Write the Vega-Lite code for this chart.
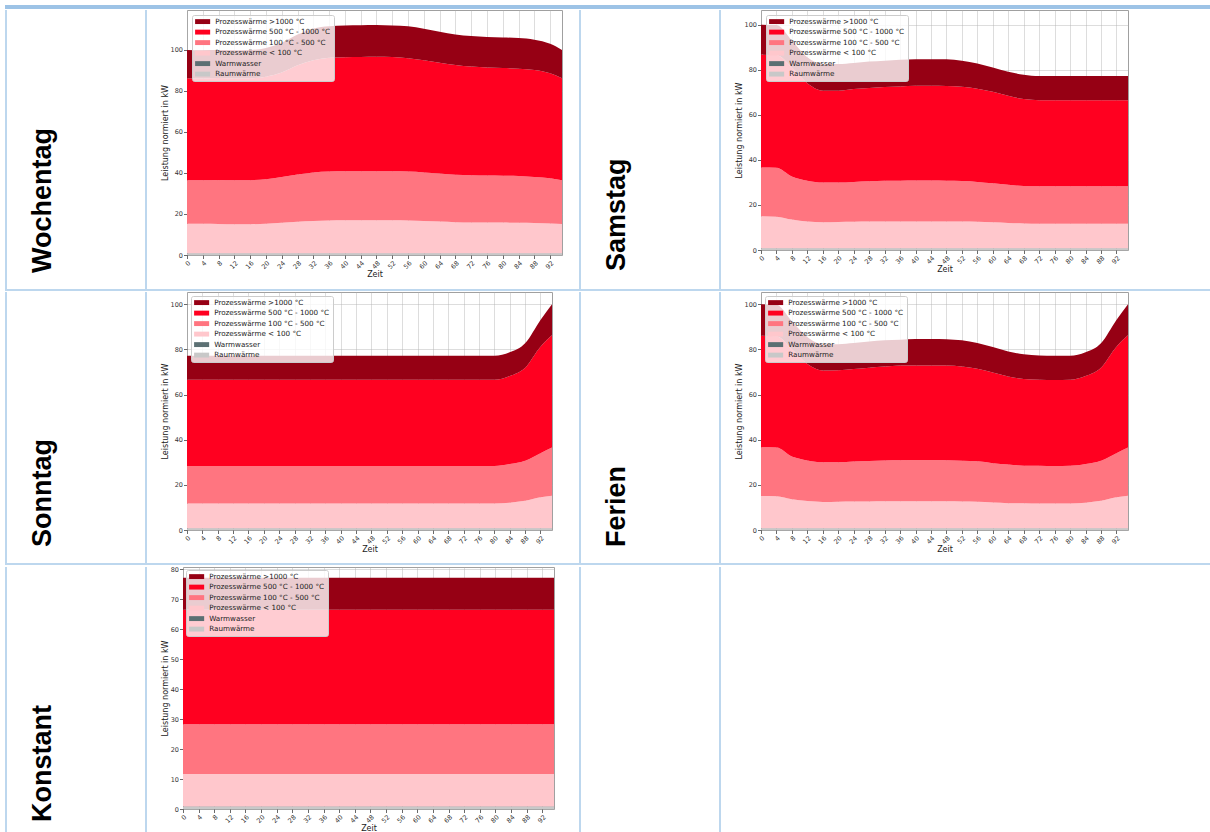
{
"$schema": "https://vega.github.io/schema/vega-lite/v6.json",
"background": "white",
"padding": {"left": 5, "top": 5, "right": 0, "bottom": 0},
"config": {
  "view": {"stroke": null},
  "font": "DejaVu Sans",
  "axis": {"labelFont": "DejaVu Sans", "titleFont": "DejaVu Sans", "labelFontSize": 6.5, "titleFontSize": 8, "titleFontWeight": "normal", "labelColor": "#333", "titleColor": "#222", "tickColor": "#444", "tickSize": 3.5, "tickWidth": 0.8, "domain": false, "gridColor": "#b0b0b0", "gridOpacity": 0.55, "gridWidth": 0.8, "zindex": 1, "labelPadding": 1, "titlePadding": 1, "labelOverlap": false, "labelFlush": false},
  "legend": {"labelFont": "DejaVu Sans", "labelFontSize": 7.2, "labelColor": "#222", "fillColor": "rgba(255,255,255,0.8)", "strokeColor": "#cccccc", "cornerRadius": 2, "padding": 3, "rowPadding": 2.5, "symbolStrokeWidth": 0, "labelOffset": 13, "zindex": 2}
},
"datasets": {
  "none": [],
  "names": [
    {"key": "r", "name": "Raumwärme", "rank": 1},
    {"key": "w", "name": "Warmwasser", "rank": 2},
    {"key": "a", "name": "Prozesswärme < 100 °C", "rank": 3},
    {"key": "b", "name": "Prozesswärme 100 °C - 500 °C", "rank": 4},
    {"key": "d", "name": "Prozesswärme 500 °C - 1000 °C", "rank": 5},
    {"key": "e", "name": "Prozesswärme >1000 °C", "rank": 6}
  ],
  "p": [
    {"c":"W","t":0,"r":0.7,"w":0.1,"a":14.4,"b":21.3,"d":49.7,"e":13.8},
    {"c":"W","t":4,"r":0.7,"w":0.1,"a":14.4,"b":21.2,"d":49.7,"e":13.8},
    {"c":"W","t":8,"r":0.7,"w":0.1,"a":14.3,"b":21.5,"d":49.7,"e":13.7},
    {"c":"W","t":12,"r":0.7,"w":0.1,"a":14.2,"b":21.4,"d":49.7,"e":13.8},
    {"c":"W","t":16,"r":0.7,"w":0.1,"a":14.2,"b":21.5,"d":49.7,"e":13.8},
    {"c":"W","t":20,"r":0.7,"w":0.1,"a":14.5,"b":21.7,"d":50.0,"e":14.0},
    {"c":"W","t":24,"r":0.7,"w":0.1,"a":14.9,"b":22.3,"d":51.0,"e":14.5},
    {"c":"W","t":28,"r":0.7,"w":0.1,"a":15.4,"b":23.1,"d":53.2,"e":15.0},
    {"c":"W","t":32,"r":0.7,"w":0.1,"a":15.8,"b":23.7,"d":54.7,"e":15.5},
    {"c":"W","t":36,"r":0.7,"w":0.1,"a":16.0,"b":23.9,"d":55.5,"e":15.4},
    {"c":"W","t":40,"r":0.7,"w":0.1,"a":16.1,"b":23.9,"d":55.7,"e":15.5},
    {"c":"W","t":44,"r":0.7,"w":0.1,"a":16.1,"b":23.9,"d":55.8,"e":15.5},
    {"c":"W","t":48,"r":0.7,"w":0.1,"a":16.1,"b":23.9,"d":55.9,"e":15.5},
    {"c":"W","t":52,"r":0.7,"w":0.1,"a":16.1,"b":23.9,"d":55.8,"e":15.4},
    {"c":"W","t":56,"r":0.7,"w":0.1,"a":16.0,"b":23.9,"d":55.3,"e":15.6},
    {"c":"W","t":60,"r":0.7,"w":0.1,"a":15.8,"b":23.7,"d":54.7,"e":15.4},
    {"c":"W","t":64,"r":0.7,"w":0.1,"a":15.5,"b":23.5,"d":54.0,"e":15.1},
    {"c":"W","t":68,"r":0.7,"w":0.1,"a":15.2,"b":23.2,"d":53.5,"e":14.9},
    {"c":"W","t":72,"r":0.7,"w":0.1,"a":15.1,"b":23.0,"d":53.0,"e":14.9},
    {"c":"W","t":76,"r":0.7,"w":0.1,"a":15.0,"b":23.0,"d":52.6,"e":14.9},
    {"c":"W","t":80,"r":0.7,"w":0.1,"a":15.0,"b":22.9,"d":52.5,"e":14.9},
    {"c":"W","t":84,"r":0.7,"w":0.1,"a":14.9,"b":22.8,"d":52.4,"e":14.9},
    {"c":"W","t":88,"r":0.7,"w":0.1,"a":14.8,"b":22.4,"d":52.2,"e":14.8},
    {"c":"W","t":92,"r":0.7,"w":0.1,"a":14.6,"b":22.0,"d":51.2,"e":14.4},
    {"c":"W","t":95,"r":0.7,"w":0.1,"a":14.3,"b":21.3,"d":49.8,"e":13.8},

    {"c":"S","t":0,"r":0.7,"w":0.1,"a":14.2,"b":21.6,"d":50.1,"e":13.3},
    {"c":"S","t":4,"r":0.7,"w":0.1,"a":14.0,"b":21.7,"d":50.0,"e":13.3},
    {"c":"S","t":8,"r":0.7,"w":0.1,"a":12.7,"b":19.1,"d":48.4,"e":12.0},
    {"c":"S","t":12,"r":0.7,"w":0.1,"a":11.8,"b":18.1,"d":43.3,"e":11.5},
    {"c":"S","t":16,"r":0.7,"w":0.1,"a":11.5,"b":17.6,"d":40.8,"e":11.8},
    {"c":"S","t":20,"r":0.7,"w":0.1,"a":11.6,"b":17.5,"d":40.8,"e":11.8},
    {"c":"S","t":24,"r":0.7,"w":0.1,"a":11.7,"b":17.7,"d":41.2,"e":11.6},
    {"c":"S","t":28,"r":0.7,"w":0.1,"a":11.8,"b":17.9,"d":41.4,"e":11.7},
    {"c":"S","t":32,"r":0.7,"w":0.1,"a":11.9,"b":18.0,"d":41.6,"e":11.7},
    {"c":"S","t":36,"r":0.7,"w":0.1,"a":11.9,"b":18.0,"d":41.9,"e":11.8},
    {"c":"S","t":40,"r":0.7,"w":0.1,"a":11.9,"b":18.1,"d":42.1,"e":11.8},
    {"c":"S","t":44,"r":0.7,"w":0.1,"a":11.9,"b":18.1,"d":42.1,"e":11.8},
    {"c":"S","t":48,"r":0.7,"w":0.1,"a":11.9,"b":18.0,"d":42.1,"e":11.8},
    {"c":"S","t":52,"r":0.7,"w":0.1,"a":11.8,"b":18.0,"d":41.8,"e":11.6},
    {"c":"S","t":56,"r":0.7,"w":0.1,"a":11.7,"b":17.7,"d":41.4,"e":11.2},
    {"c":"S","t":60,"r":0.7,"w":0.1,"a":11.5,"b":17.3,"d":40.6,"e":10.8},
    {"c":"S","t":64,"r":0.7,"w":0.1,"a":11.2,"b":16.9,"d":39.5,"e":10.7},
    {"c":"S","t":68,"r":0.7,"w":0.1,"a":11.0,"b":16.6,"d":38.6,"e":10.8},
    {"c":"S","t":72,"r":0.7,"w":0.1,"a":10.9,"b":16.6,"d":38.2,"e":10.7},
    {"c":"S","t":76,"r":0.7,"w":0.1,"a":10.9,"b":16.6,"d":38.2,"e":10.7},
    {"c":"S","t":80,"r":0.7,"w":0.1,"a":10.9,"b":16.6,"d":38.2,"e":10.7},
    {"c":"S","t":84,"r":0.7,"w":0.1,"a":10.9,"b":16.6,"d":38.2,"e":10.7},
    {"c":"S","t":88,"r":0.7,"w":0.1,"a":10.9,"b":16.6,"d":38.2,"e":10.7},
    {"c":"S","t":92,"r":0.7,"w":0.1,"a":10.9,"b":16.6,"d":38.2,"e":10.7},
    {"c":"S","t":95,"r":0.7,"w":0.1,"a":10.9,"b":16.6,"d":38.2,"e":10.7},

    {"c":"So","t":0,"r":0.7,"w":0.1,"a":10.9,"b":16.6,"d":38.2,"e":10.7},
    {"c":"So","t":4,"r":0.7,"w":0.1,"a":10.9,"b":16.6,"d":38.2,"e":10.7},
    {"c":"So","t":8,"r":0.7,"w":0.1,"a":10.9,"b":16.6,"d":38.2,"e":10.7},
    {"c":"So","t":12,"r":0.7,"w":0.1,"a":10.9,"b":16.6,"d":38.2,"e":10.7},
    {"c":"So","t":16,"r":0.7,"w":0.1,"a":10.9,"b":16.6,"d":38.2,"e":10.7},
    {"c":"So","t":20,"r":0.7,"w":0.1,"a":10.9,"b":16.6,"d":38.2,"e":10.7},
    {"c":"So","t":24,"r":0.7,"w":0.1,"a":10.9,"b":16.6,"d":38.2,"e":10.7},
    {"c":"So","t":28,"r":0.7,"w":0.1,"a":10.9,"b":16.6,"d":38.2,"e":10.7},
    {"c":"So","t":32,"r":0.7,"w":0.1,"a":10.9,"b":16.6,"d":38.2,"e":10.7},
    {"c":"So","t":36,"r":0.7,"w":0.1,"a":10.9,"b":16.6,"d":38.2,"e":10.7},
    {"c":"So","t":40,"r":0.7,"w":0.1,"a":10.9,"b":16.6,"d":38.2,"e":10.7},
    {"c":"So","t":44,"r":0.7,"w":0.1,"a":10.9,"b":16.6,"d":38.2,"e":10.7},
    {"c":"So","t":48,"r":0.7,"w":0.1,"a":10.9,"b":16.6,"d":38.2,"e":10.7},
    {"c":"So","t":52,"r":0.7,"w":0.1,"a":10.9,"b":16.6,"d":38.2,"e":10.7},
    {"c":"So","t":56,"r":0.7,"w":0.1,"a":10.9,"b":16.6,"d":38.2,"e":10.7},
    {"c":"So","t":60,"r":0.7,"w":0.1,"a":10.9,"b":16.6,"d":38.2,"e":10.7},
    {"c":"So","t":64,"r":0.7,"w":0.1,"a":10.9,"b":16.6,"d":38.2,"e":10.7},
    {"c":"So","t":68,"r":0.7,"w":0.1,"a":10.9,"b":16.6,"d":38.2,"e":10.7},
    {"c":"So","t":72,"r":0.7,"w":0.1,"a":10.9,"b":16.6,"d":38.2,"e":10.7},
    {"c":"So","t":76,"r":0.7,"w":0.1,"a":10.9,"b":16.6,"d":38.2,"e":10.7},
    {"c":"So","t":80,"r":0.7,"w":0.1,"a":10.9,"b":16.6,"d":38.2,"e":10.7},
    {"c":"So","t":84,"r":0.7,"w":0.1,"a":11.3,"b":17.1,"d":39.0,"e":10.5},
    {"c":"So","t":88,"r":0.7,"w":0.1,"a":12.1,"b":17.8,"d":41.2,"e":10.8},
    {"c":"So","t":92,"r":0.7,"w":0.1,"a":13.7,"b":19.5,"d":47.2,"e":11.8},
    {"c":"So","t":95,"r":0.7,"w":0.1,"a":14.4,"b":21.3,"d":49.7,"e":13.8},

    {"c":"F","t":0,"r":0.7,"w":0.1,"a":14.3,"b":21.5,"d":49.4,"e":14.0},
    {"c":"F","t":4,"r":0.7,"w":0.1,"a":14.2,"b":21.5,"d":49.3,"e":14.0},
    {"c":"F","t":8,"r":0.7,"w":0.1,"a":12.8,"b":18.9,"d":47.5,"e":12.5},
    {"c":"F","t":12,"r":0.7,"w":0.1,"a":12.0,"b":18.0,"d":42.7,"e":12.0},
    {"c":"F","t":16,"r":0.7,"w":0.1,"a":11.6,"b":17.6,"d":40.6,"e":11.7},
    {"c":"F","t":20,"r":0.7,"w":0.1,"a":11.7,"b":17.5,"d":40.7,"e":11.6},
    {"c":"F","t":24,"r":0.7,"w":0.1,"a":11.8,"b":17.7,"d":41.0,"e":11.5},
    {"c":"F","t":28,"r":0.7,"w":0.1,"a":11.8,"b":18.0,"d":41.3,"e":11.6},
    {"c":"F","t":32,"r":0.7,"w":0.1,"a":11.9,"b":18.1,"d":41.6,"e":11.6},
    {"c":"F","t":36,"r":0.7,"w":0.1,"a":11.9,"b":18.2,"d":41.9,"e":11.5},
    {"c":"F","t":40,"r":0.7,"w":0.1,"a":11.9,"b":18.3,"d":41.9,"e":11.7},
    {"c":"F","t":44,"r":0.7,"w":0.1,"a":11.9,"b":18.3,"d":41.9,"e":11.7},
    {"c":"F","t":48,"r":0.7,"w":0.1,"a":11.9,"b":18.2,"d":41.9,"e":11.7},
    {"c":"F","t":52,"r":0.7,"w":0.1,"a":11.8,"b":18.1,"d":41.7,"e":11.6},
    {"c":"F","t":56,"r":0.7,"w":0.1,"a":11.7,"b":17.9,"d":41.0,"e":11.4},
    {"c":"F","t":60,"r":0.7,"w":0.1,"a":11.4,"b":17.4,"d":40.2,"e":11.2},
    {"c":"F","t":64,"r":0.7,"w":0.1,"a":11.1,"b":17.1,"d":39.0,"e":11.1},
    {"c":"F","t":68,"r":0.7,"w":0.1,"a":11.0,"b":16.7,"d":38.4,"e":10.9},
    {"c":"F","t":72,"r":0.7,"w":0.1,"a":10.9,"b":16.7,"d":38.1,"e":10.8},
    {"c":"F","t":76,"r":0.7,"w":0.1,"a":10.9,"b":16.6,"d":38.1,"e":10.8},
    {"c":"F","t":80,"r":0.7,"w":0.1,"a":10.9,"b":16.7,"d":38.1,"e":10.7},
    {"c":"F","t":84,"r":0.7,"w":0.1,"a":11.3,"b":17.1,"d":39.0,"e":10.5},
    {"c":"F","t":88,"r":0.7,"w":0.1,"a":12.1,"b":17.8,"d":41.2,"e":10.8},
    {"c":"F","t":92,"r":0.7,"w":0.1,"a":13.7,"b":19.5,"d":47.2,"e":11.8},
    {"c":"F","t":95,"r":0.7,"w":0.1,"a":14.4,"b":21.3,"d":49.7,"e":13.8},

    {"c":"K","t":0,"r":0.7,"w":0.1,"a":10.9,"b":16.6,"d":38.2,"e":10.7},
    {"c":"K","t":95,"r":0.7,"w":0.1,"a":10.9,"b":16.6,"d":38.2,"e":10.7}
  ]
},
"spacing": 0,
"resolve": {"scale": {"color": "independent"}, "legend": {"color": "independent"}},
"vconcat": [
  {"width": 1205, "height": 4, "data": {"name": "none"}, "mark": {"type": "point"}, "encoding": {}, "view": {"fill": "#9dc3e6", "stroke": null}},
  {"hconcat": [
    {"width": 2, "height": 279, "data": {"name": "none"}, "mark": {"type": "point"}, "encoding": {}, "view": {"fill": "#bdd7ee", "stroke": null}},
    {"width": 112, "height": 279, "data": {"values": [{"label": "Wochentag"}]}, "mark": {"type": "text", "angle": 270, "align": "left", "baseline": "alphabetic", "font": "Liberation Sans", "fontWeight": "bold", "fontSize": 27, "color": "#000", "x": 31, "y": 263}, "encoding": {"text": {"field": "label", "type": "nominal"}}},
    {"width": 2, "height": 279, "data": {"name": "none"}, "mark": {"type": "point"}, "encoding": {}, "view": {"fill": "#bdd7ee", "stroke": null}},
    {"hconcat": [
      {"width": 375, "height": 245,
       "data": {"name": "p"},
       "transform": [{"filter": {"field": "c", "equal": "W"}}, {"fold": ["r", "w", "a", "b", "d", "e"], "as": ["key", "value"]}, {"lookup": "key", "from": {"data": {"name": "names"}, "key": "key", "fields": ["name", "rank"]}}],
       "mark": {"type": "area", "interpolate": "monotone"},
       "encoding": {
         "x": {"field": "t", "type": "quantitative", "scale": {"domain": [0, 95], "nice": false, "zero": false}, "axis": {"values": [0,4,8,12,16,20,24,28,32,36,40,44,48,52,56,60,64,68,72,76,80,84,88,92], "title": "Zeit", "labelAngle": -45}},
         "y": {"field": "value", "type": "quantitative", "stack": "zero", "scale": {"domain": [0, 119.5], "nice": false}, "axis": {"values": [0,20,40,60,80,100], "title": "Leistung normiert in kW"}},
         "color": {"field": "name", "type": "nominal", "scale": {"domain": ["Prozesswärme >1000 °C", "Prozesswärme 500 °C - 1000 °C", "Prozesswärme 100 °C - 500 °C", "Prozesswärme < 100 °C", "Warmwasser", "Raumwärme"], "range": ["#960014", "#ff0020", "#ff7580", "#ffc7cc", "#5c7073", "#c8c8c8"]}, "legend": {"title": null, "orient": "top-left", "offset": 5, "symbolType": "M-1,-0.7H3.3V0.7H-1Z", "symbolSize": 49}},
         "order": {"field": "rank", "type": "quantitative"}
       },
       "view": {"stroke": "#a0a0a0"}
      },
      {"width": 3, "height": 10, "data": {"name": "none"}, "mark": {"type": "point"}, "encoding": {}}
    ], "spacing": 0, "resolve": {"scale": {"color": "independent"}, "legend": {"color": "independent"}}},
    {"width": 2, "height": 279, "data": {"name": "none"}, "mark": {"type": "point"}, "encoding": {}, "view": {"fill": "#bdd7ee", "stroke": null}},
    {"width": 112, "height": 279, "data": {"values": [{"label": "Samstag"}]}, "mark": {"type": "text", "angle": 270, "align": "left", "baseline": "alphabetic", "font": "Liberation Sans", "fontWeight": "bold", "fontSize": 27, "color": "#000", "x": 31, "y": 261}, "encoding": {"text": {"field": "label", "type": "nominal"}}},
    {"width": 2, "height": 279, "data": {"name": "none"}, "mark": {"type": "point"}, "encoding": {}, "view": {"fill": "#bdd7ee", "stroke": null}},
    {"width": 367, "height": 240,
     "data": {"name": "p"},
     "transform": [{"filter": {"field": "c", "equal": "S"}}, {"fold": ["r", "w", "a", "b", "d", "e"], "as": ["key", "value"]}, {"lookup": "key", "from": {"data": {"name": "names"}, "key": "key", "fields": ["name", "rank"]}}],
     "mark": {"type": "area", "interpolate": "monotone"},
     "encoding": {
       "x": {"field": "t", "type": "quantitative", "scale": {"domain": [0, 95], "nice": false, "zero": false}, "axis": {"values": [0,4,8,12,16,20,24,28,32,36,40,44,48,52,56,60,64,68,72,76,80,84,88,92], "title": "Zeit", "labelAngle": -45}},
       "y": {"field": "value", "type": "quantitative", "stack": "zero", "scale": {"domain": [0, 106.5], "nice": false}, "axis": {"values": [0,20,40,60,80,100], "title": "Leistung normiert in kW"}},
       "color": {"field": "name", "type": "nominal", "scale": {"domain": ["Prozesswärme >1000 °C", "Prozesswärme 500 °C - 1000 °C", "Prozesswärme 100 °C - 500 °C", "Prozesswärme < 100 °C", "Warmwasser", "Raumwärme"], "range": ["#960014", "#ff0020", "#ff7580", "#ffc7cc", "#5c7073", "#c8c8c8"]}, "legend": {"title": null, "orient": "top-left", "offset": 5, "symbolType": "M-1,-0.7H3.3V0.7H-1Z", "symbolSize": 49}},
       "order": {"field": "rank", "type": "quantitative"}
     },
     "view": {"stroke": "#a0a0a0"}
    }
  ], "spacing": 13, "resolve": {"scale": {"color": "independent"}, "legend": {"color": "independent"}}},
  {"width": 1205, "height": 2, "data": {"name": "none"}, "mark": {"type": "point"}, "encoding": {}, "view": {"fill": "#bdd7ee", "stroke": null}},
  {"hconcat": [
    {"width": 2, "height": 271, "data": {"name": "none"}, "mark": {"type": "point"}, "encoding": {}, "view": {"fill": "#bdd7ee", "stroke": null}},
    {"width": 112, "height": 271, "data": {"values": [{"label": "Sonntag"}]}, "mark": {"type": "text", "angle": 270, "align": "left", "baseline": "alphabetic", "font": "Liberation Sans", "fontWeight": "bold", "fontSize": 27, "color": "#000", "x": 31, "y": 255}, "encoding": {"text": {"field": "label", "type": "nominal"}}},
    {"width": 2, "height": 271, "data": {"name": "none"}, "mark": {"type": "point"}, "encoding": {}, "view": {"fill": "#bdd7ee", "stroke": null}},
    {"hconcat": [
      {"width": 365, "height": 238,
       "data": {"name": "p"},
       "transform": [{"filter": {"field": "c", "equal": "So"}}, {"fold": ["r", "w", "a", "b", "d", "e"], "as": ["key", "value"]}, {"lookup": "key", "from": {"data": {"name": "names"}, "key": "key", "fields": ["name", "rank"]}}],
       "mark": {"type": "area", "interpolate": "monotone"},
       "encoding": {
         "x": {"field": "t", "type": "quantitative", "scale": {"domain": [0, 95], "nice": false, "zero": false}, "axis": {"values": [0,4,8,12,16,20,24,28,32,36,40,44,48,52,56,60,64,68,72,76,80,84,88,92], "title": "Zeit", "labelAngle": -45}},
         "y": {"field": "value", "type": "quantitative", "stack": "zero", "scale": {"domain": [0, 105.4], "nice": false}, "axis": {"values": [0,20,40,60,80,100], "title": "Leistung normiert in kW"}},
         "color": {"field": "name", "type": "nominal", "scale": {"domain": ["Prozesswärme >1000 °C", "Prozesswärme 500 °C - 1000 °C", "Prozesswärme 100 °C - 500 °C", "Prozesswärme < 100 °C", "Warmwasser", "Raumwärme"], "range": ["#960014", "#ff0020", "#ff7580", "#ffc7cc", "#5c7073", "#c8c8c8"]}, "legend": {"title": null, "orient": "top-left", "offset": 4, "symbolType": "M-1,-0.7H3.3V0.7H-1Z", "symbolSize": 49}},
         "order": {"field": "rank", "type": "quantitative"}
       },
       "view": {"stroke": "#a0a0a0"}
      },
      {"width": 13, "height": 10, "data": {"name": "none"}, "mark": {"type": "point"}, "encoding": {}}
    ], "spacing": 0, "resolve": {"scale": {"color": "independent"}, "legend": {"color": "independent"}}},
    {"width": 2, "height": 271, "data": {"name": "none"}, "mark": {"type": "point"}, "encoding": {}, "view": {"fill": "#bdd7ee", "stroke": null}},
    {"width": 112, "height": 271, "data": {"values": [{"label": "Ferien"}]}, "mark": {"type": "text", "angle": 270, "align": "left", "baseline": "alphabetic", "font": "Liberation Sans", "fontWeight": "bold", "fontSize": 27, "color": "#000", "x": 31, "y": 255}, "encoding": {"text": {"field": "label", "type": "nominal"}}},
    {"width": 2, "height": 271, "data": {"name": "none"}, "mark": {"type": "point"}, "encoding": {}, "view": {"fill": "#bdd7ee", "stroke": null}},
    {"width": 367, "height": 238,
     "data": {"name": "p"},
     "transform": [{"filter": {"field": "c", "equal": "F"}}, {"fold": ["r", "w", "a", "b", "d", "e"], "as": ["key", "value"]}, {"lookup": "key", "from": {"data": {"name": "names"}, "key": "key", "fields": ["name", "rank"]}}],
     "mark": {"type": "area", "interpolate": "monotone"},
     "encoding": {
       "x": {"field": "t", "type": "quantitative", "scale": {"domain": [0, 95], "nice": false, "zero": false}, "axis": {"values": [0,4,8,12,16,20,24,28,32,36,40,44,48,52,56,60,64,68,72,76,80,84,88,92], "title": "Zeit", "labelAngle": -45}},
       "y": {"field": "value", "type": "quantitative", "stack": "zero", "scale": {"domain": [0, 105.4], "nice": false}, "axis": {"values": [0,20,40,60,80,100], "title": "Leistung normiert in kW"}},
       "color": {"field": "name", "type": "nominal", "scale": {"domain": ["Prozesswärme >1000 °C", "Prozesswärme 500 °C - 1000 °C", "Prozesswärme 100 °C - 500 °C", "Prozesswärme < 100 °C", "Warmwasser", "Raumwärme"], "range": ["#960014", "#ff0020", "#ff7580", "#ffc7cc", "#5c7073", "#c8c8c8"]}, "legend": {"title": null, "orient": "top-left", "offset": 4, "symbolType": "M-1,-0.7H3.3V0.7H-1Z", "symbolSize": 49}},
       "order": {"field": "rank", "type": "quantitative"}
     },
     "view": {"stroke": "#a0a0a0"}
    }
  ], "spacing": 13, "resolve": {"scale": {"color": "independent"}, "legend": {"color": "independent"}}},
  {"width": 1205, "height": 2, "data": {"name": "none"}, "mark": {"type": "point"}, "encoding": {}, "view": {"fill": "#bdd7ee", "stroke": null}},
  {"hconcat": [
    {"width": 2, "height": 270, "data": {"name": "none"}, "mark": {"type": "point"}, "encoding": {}, "view": {"fill": "#bdd7ee", "stroke": null}},
    {"width": 112, "height": 270, "data": {"values": [{"label": "Konstant"}]}, "mark": {"type": "text", "angle": 270, "align": "left", "baseline": "alphabetic", "font": "Liberation Sans", "fontWeight": "bold", "fontSize": 27, "color": "#000", "x": 31, "y": 255}, "encoding": {"text": {"field": "label", "type": "nominal"}}},
    {"width": 2, "height": 270, "data": {"name": "none"}, "mark": {"type": "point"}, "encoding": {}, "view": {"fill": "#bdd7ee", "stroke": null}},
    {"hconcat": [
      {"width": 371, "height": 242,
       "data": {"name": "p"},
       "transform": [{"filter": {"field": "c", "equal": "K"}}, {"fold": ["r", "w", "a", "b", "d", "e"], "as": ["key", "value"]}, {"lookup": "key", "from": {"data": {"name": "names"}, "key": "key", "fields": ["name", "rank"]}}],
       "mark": {"type": "area", "interpolate": "monotone"},
       "encoding": {
         "x": {"field": "t", "type": "quantitative", "scale": {"domain": [0, 95], "nice": false, "zero": false}, "axis": {"values": [0,4,8,12,16,20,24,28,32,36,40,44,48,52,56,60,64,68,72,76,80,84,88,92], "title": "Zeit", "labelAngle": -45}},
         "y": {"field": "value", "type": "quantitative", "stack": "zero", "scale": {"domain": [0, 80.8], "nice": false}, "axis": {"values": [0,10,20,30,40,50,60,70,80], "title": "Leistung normiert in kW"}},
         "color": {"field": "name", "type": "nominal", "scale": {"domain": ["Prozesswärme >1000 °C", "Prozesswärme 500 °C - 1000 °C", "Prozesswärme 100 °C - 500 °C", "Prozesswärme < 100 °C", "Warmwasser", "Raumwärme"], "range": ["#960014", "#ff0020", "#ff7580", "#ffc7cc", "#5c7073", "#c8c8c8"]}, "legend": {"title": null, "orient": "top-left", "offset": 3, "symbolType": "M-1,-0.7H3.3V0.7H-1Z", "symbolSize": 49}},
         "order": {"field": "rank", "type": "quantitative"}
       },
       "view": {"stroke": "#a0a0a0"}
      },
      {"width": 11, "height": 10, "data": {"name": "none"}, "mark": {"type": "point"}, "encoding": {}}
    ], "spacing": 0, "resolve": {"scale": {"color": "independent"}, "legend": {"color": "independent"}}},
    {"width": 2, "height": 270, "data": {"name": "none"}, "mark": {"type": "point"}, "encoding": {}, "view": {"fill": "#bdd7ee", "stroke": null}},
    {"width": 112, "height": 270, "data": {"name": "none"}, "mark": {"type": "point"}, "encoding": {}},
    {"width": 2, "height": 270, "data": {"name": "none"}, "mark": {"type": "point"}, "encoding": {}, "view": {"fill": "#bdd7ee", "stroke": null}}
  ], "spacing": 13, "resolve": {"scale": {"color": "independent"}, "legend": {"color": "independent"}}}
]
}
